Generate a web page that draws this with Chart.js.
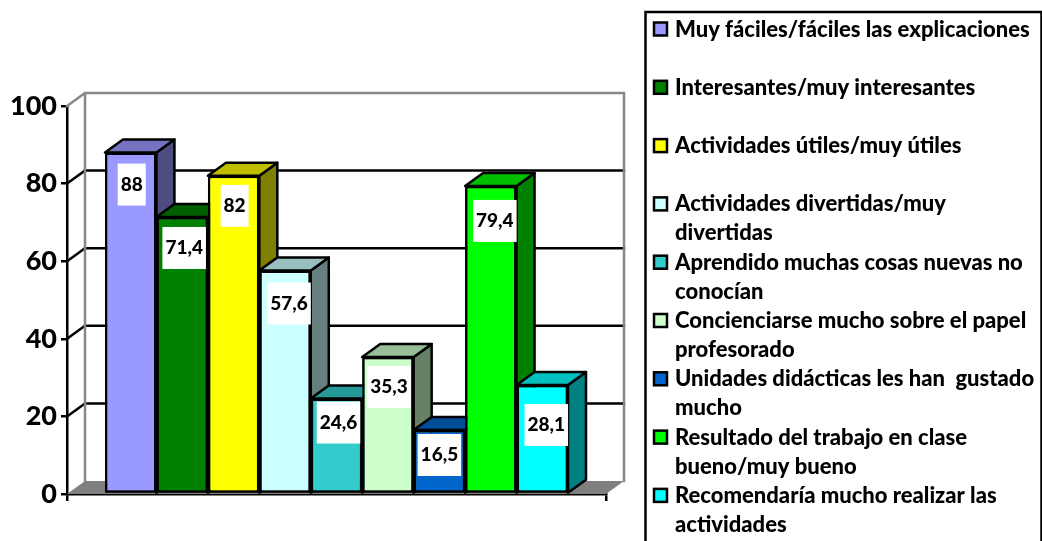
<!DOCTYPE html>
<html>
<head>
<meta charset="utf-8">
<style>
  html, body { margin: 0; padding: 0; background: #fff; }
  canvas { display: block; }
</style>
<script src="https://cdn.jsdelivr.net/npm/chart.js@4/dist/chart.umd.min.js"></script>
</head>
<body>
<canvas id="chart" width="1042" height="541"></canvas>
<script>
const categories = [""];
const seriesNames = [
  ["Muy fáciles/fáciles las explicaciones"],
  ["Interesantes/muy interesantes"],
  ["Actividades útiles/muy útiles"],
  ["Actividades divertidas/muy", "divertidas"],
  ["Aprendido muchas cosas nuevas no", "conocían"],
  ["Concienciarse mucho sobre el papel", "profesorado"],
  ["Unidades didácticas les han  gustado", "mucho"],
  ["Resultado del trabajo en clase", "bueno/muy bueno"],
  ["Recomendaría mucho realizar las", "actividades"]
];
const seriesValues = [88, 71.4, 82, 57.6, 24.6, 35.3, 16.5, 79.4, 28.1];
const seriesColors = ["#9999FF", "#008000", "#FFFF00", "#CCFFFF", "#33CCCC", "#CCFFCC", "#0066CC", "#00FF00", "#00FFFF"];
const yTicks = [0, 20, 40, 60, 80, 100];

// how far each value box sits from the bar top / bar centre, by eye
const boxDrop = [11, 10, 9, 12, 3, 9, 4, 14, 19];
const boxShift = [1, 2, 1, 4, 2, 1, 0, 4, 4];

const DEPTH_X = 18, DEPTH_Y = 13;
const FONT = "Lato, sans-serif";

function shade(hex, k) {
  const n = parseInt(hex.slice(1), 16);
  const c = [n >> 16, (n >> 8) & 255, n & 255].map(v => Math.round(v * k));
  return `rgb(${c[0]},${c[1]},${c[2]})`;
}

function poly(ctx, pts, fill, stroke, width) {
  ctx.beginPath();
  pts.forEach((p, i) => i ? ctx.lineTo(p[0], p[1]) : ctx.moveTo(p[0], p[1]));
  ctx.closePath();
  if (fill) { ctx.fillStyle = fill; ctx.fill(); }
  if (stroke) { ctx.strokeStyle = stroke; ctx.lineWidth = width; ctx.stroke(); }
}

function line(ctx, x1, y1, x2, y2, color, width) {
  ctx.beginPath();
  ctx.moveTo(x1, y1);
  ctx.lineTo(x2, y2);
  ctx.strokeStyle = color;
  ctx.lineWidth = width;
  ctx.stroke();
}

// back wall, floor and gridlines behind the bars
const wallPlugin = {
  id: "wall",
  beforeDatasetsDraw(chart) {
    const ctx = chart.ctx, y = chart.scales.y, a = chart.chartArea;
    const y0 = y.getPixelForValue(0), x0 = a.left, x1 = a.right;
    ctx.save();
    ctx.lineCap = "square";
    poly(ctx, [[x0, y0], [x1, y0], [x1 + DEPTH_X, y0 - DEPTH_Y], [x0 + DEPTH_X, y0 - DEPTH_Y]], "#808080");
    yTicks.slice(1, -1).forEach(v => {
      const py = y.getPixelForValue(v);
      line(ctx, x0, py, x0 + DEPTH_X, py - DEPTH_Y, "#000", 2.5);
      line(ctx, x0 + DEPTH_X, py - DEPTH_Y, x1 + DEPTH_X, py - DEPTH_Y, "#000", 2.5);
    });
    const top = y.getPixelForValue(100);
    ctx.strokeStyle = "#888";
    ctx.lineWidth = 2.5;
    ctx.beginPath();
    ctx.moveTo(x0, top);
    ctx.lineTo(x0 + DEPTH_X, top - DEPTH_Y);
    ctx.lineTo(x1 + DEPTH_X, top - DEPTH_Y);
    ctx.lineTo(x1 + DEPTH_X, y0 - DEPTH_Y);
    ctx.moveTo(x0 + DEPTH_X, top - DEPTH_Y);
    ctx.lineTo(x0 + DEPTH_X, y0 - DEPTH_Y);
    ctx.stroke();
    ctx.restore();
  },
  // bars are repainted left to right so each one covers the side of the one before
  afterDatasetsDraw(chart) {
    const ctx = chart.ctx;
    ctx.save();
    ctx.lineJoin = "round";
    seriesValues.forEach((v, i) => {
      const bar = chart.getDatasetMeta(i).data[0];
      const left = bar.x - bar.width / 2, right = bar.x + bar.width / 2;
      const color = seriesColors[i];
      poly(ctx, [[right, bar.y], [right + DEPTH_X, bar.y - DEPTH_Y], [right + DEPTH_X, bar.base - DEPTH_Y], [right, bar.base]], shade(color, 0.5), "#000", 2.5);
      poly(ctx, [[left, bar.y], [left + DEPTH_X, bar.y - DEPTH_Y], [right + DEPTH_X, bar.y - DEPTH_Y], [right, bar.y]], shade(color, 0.75), "#000", 2.5);
      bar.draw(ctx);
    });
    seriesValues.forEach((v, i) => {
      const bar = chart.getDatasetMeta(i).data[0];
      const text = String(v).replace(".", ",");
      ctx.font = "900 19px " + FONT;
      const w = ctx.measureText(text).width + 6;
      const cx = bar.x + boxShift[i], top = bar.y + boxDrop[i];
      ctx.fillStyle = "#fff";
      ctx.fillRect(cx - w / 2, top, w, 42);
      ctx.fillStyle = "#000";
      ctx.textAlign = "center";
      ctx.textBaseline = "middle";
      ctx.fillText(text, cx, top + 21);
    });
    ctx.restore();
  },
  // legend is hand drawn because its rows keep a fixed pitch whatever they wrap to
  afterDraw(chart) {
    const ctx = chart.ctx;
    ctx.save();
    ctx.strokeStyle = "#000";
    ctx.lineWidth = 2.5;
    ctx.strokeRect(645.5, 12, 396, 540);
    ctx.textAlign = "left";
    ctx.textBaseline = "middle";
    ctx.font = "900 22px " + FONT;
    seriesNames.forEach((lines, i) => {
      const cy = 29.5 + i * 58.3;
      ctx.fillStyle = seriesColors[i];
      ctx.fillRect(654, cy - 7, 13, 13);
      ctx.strokeRect(654, cy - 7, 13, 13);
      ctx.fillStyle = "#000";
      lines.forEach((t, j) => ctx.fillText(t, 675, cy + j * 29));
    });
    ctx.restore();
  }
};

new Chart(document.getElementById("chart").getContext("2d"), {
  type: "bar",
  data: {
    labels: categories,
    datasets: seriesNames.map((lines, i) => ({
      label: lines.join(" "),
      data: [seriesValues[i]],
      backgroundColor: seriesColors[i],
      borderColor: "#000",
      borderWidth: 2.5,
      borderSkipped: false
    }))
  },
  options: {
    responsive: false,
    animation: false,
    layout: { padding: { top: 106, right: 436, left: 0, bottom: 0 } },
    datasets: { bar: { categoryPercentage: 0.859, barPercentage: 1 } },
    plugins: { legend: { display: false }, tooltip: { enabled: false } },
    scales: {
      x: {
        afterFit(s) { s.height = 47; },
        ticks: { display: false },
        grid: { drawOnChartArea: false, color: "#000", lineWidth: 2.5, tickLength: 7 },
        border: { color: "#000", width: 2.5 }
      },
      y: {
        min: 0,
        max: 100,
        afterFit(s) { s.width = 67; },
        ticks: {
          stepSize: 20,
          color: "#000",
          padding: 4,
          font: { family: FONT, size: 27, weight: "900" }
        },
        grid: { drawOnChartArea: false, color: "#000", lineWidth: 2.5, tickLength: 6 },
        border: { color: "#000", width: 2.5 }
      }
    }
  },
  plugins: [wallPlugin]
});
</script>
</body>
</html>
